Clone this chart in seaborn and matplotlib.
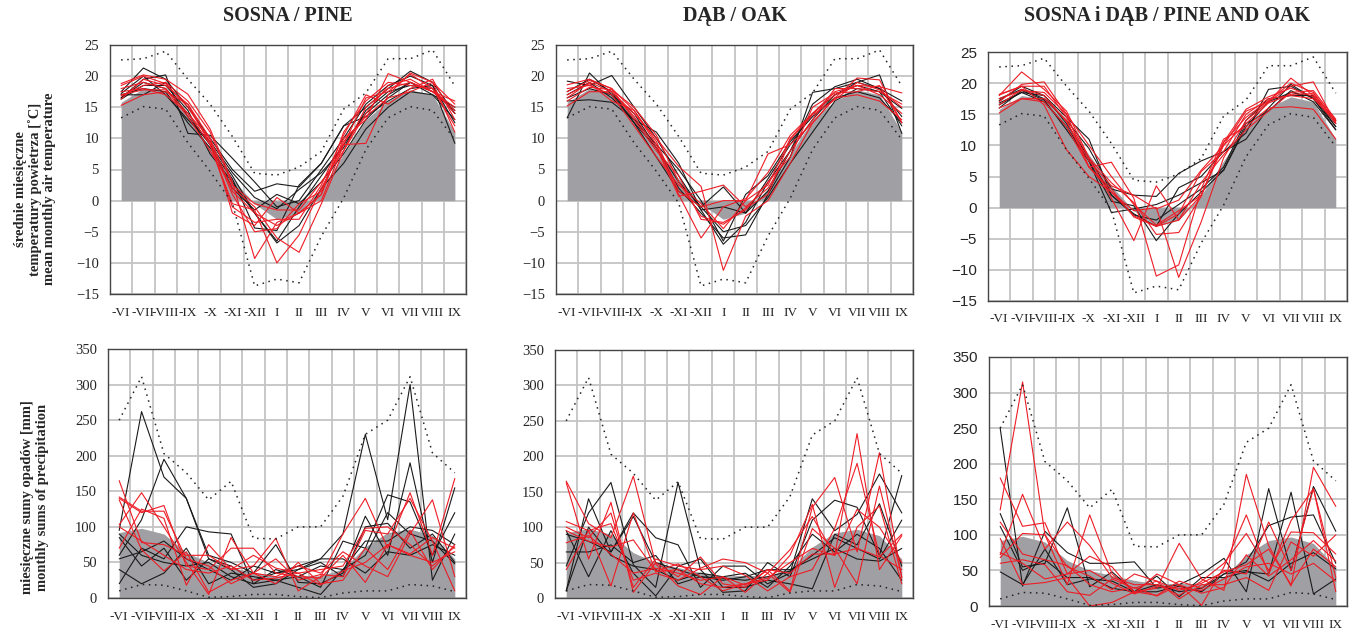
import numpy as np
import pandas as pd
import matplotlib
matplotlib.use('Agg')
import matplotlib.pyplot as plt
import seaborn as sns

# months of the previous (-) and current year
months = ['-VI', '-VII', '-VIII', '-IX', '-X', '-XI', '-XII', 'I', 'II', 'III',
          'IV', 'V', 'VI', 'VII', 'VIII', 'IX']

# long-term climate (gray area = mean, dotted = max / min)
temp_mean = [15.8, 18, 17.5, 13.5, 8.5, 3.5, -0.5, -3, -2, 2, 7.5, 13, 16, 17.8, 17, 11]
temp_max = [22.6, 22.8, 24, 19.5, 15.5, 10.3, 4.4, 4.1, 5.4, 7.9, 14.7, 17.3, 22.8, 22.8, 24.2, 18.4]
temp_min = [13.3, 15.1, 14.7, 9.3, 4.7, -0.4, -13.7, -12.6, -13.2, -5.7, 0.4, 8.2, 13.3, 15.1, 14.5, 9.8]
prec_mean = [92, 98, 90, 64, 50, 43, 36, 31, 32, 31, 41, 72, 92, 97, 88, 55]
prec_max = [250, 311, 203, 176, 138, 164, 84, 83, 100, 100, 143, 230, 250, 311, 204, 176]
prec_min = [10, 19, 18, 10, 1, 2, 5, 5, 2, 0.5, 7, 10, 10, 19, 17, 9]

# pine - temperature
pine_temp_black = [
    [17.5, 21.3, 19.5, 15, 10, 5, 1.5, 2.7, 2.2, 6, 12, 15, 18, 20.8, 19, 14],
    [16.5, 19.5, 20.2, 10.8, 10.5, 6.8, 3, -1, 0, 5, 10, 15.5, 18.5, 20, 18.5, 9.2],
    [16.5, 19, 18, 14, 9, 4, -2, -6.5, -1, 4, 9, 14, 17, 19, 17, 15],
    [17, 18, 17.5, 12.5, 8.5, 3.5, -4.4, -4.8, 2.5, 6, 12, 13.5, 16, 18, 18.5, 12.5],
    [17, 17, 19, 13.5, 9, 2, -1.5, 1, -0.5, 3, 7.5, 13, 16.5, 19, 17.5, 14.5],
    [16.3, 18.5, 18.5, 14.5, 7.5, 3, -2, -6.8, -4, 2, 6, 11.5, 15, 17.5, 17, 13],
    [17.2, 20, 17, 13, 9.5, 4.5, 0.5, -1.3, 1.8, 4.5, 8.5, 14.5, 17.5, 18.5, 18, 14],
]
pine_temp_red = [
    [18.8, 20.2, 19.5, 17.1, 11.5, 3, -9.3, -3.5, -2, 1, 10, 13, 20.4, 19, 17.5, 16],
    [15.3, 17, 17.5, 15.5, 9, -0.5, -1.5, -10, -5.5, 2, 9, 9.2, 17, 20.5, 19, 11],
    [18, 19, 18, 14, 10, -2, -4, 0.5, -2, 1, 11, 16, 19, 18.5, 18, 14],
    [17, 17.8, 17.8, 13.5, 8, 2, -1, -6, -8.3, -0.5, 8, 15, 18, 19, 17.5, 15],
    [16.3, 19.5, 18.5, 15.5, 10, 1.5, -2, -4, -2, 0, 9, 16.5, 17.5, 20.3, 18, 12],
    [17.5, 18, 17, 14, 9, -1, -3.5, -3, -3, 2.5, 10.5, 17, 15.5, 18, 19.5, 13],
    [16.8, 18.5, 19, 16, 11, 2.5, -0.5, -1.5, -1.5, 3, 8, 14, 18.5, 19.5, 17.5, 14.5],
    [18.5, 20, 18.8, 15, 9.5, 1, -5, -4.5, -0.5, 1.5, 9.5, 13.5, 16.5, 17.5, 19, 15.5],
]

# oak - temperature
oak_temp_black = [
    [13.3, 20.5, 17, 12.5, 8.5, 2, -2, -6, -5.5, 1, 7, 17.4, 18, 19, 20.2, 10.8],
    [19.2, 18.5, 20.1, 15, 10, 4, -1.5, -7, -3.5, 3, 8, 15.5, 18.3, 19.5, 18, 16],
    [16, 16.2, 15.8, 13, 11, 6, -1.5, -1, -2, 3.5, 9, 14, 17, 18.5, 17.5, 12],
    [17.5, 19.5, 17.5, 12.5, 7, 1.5, -1, 2.2, -2, 1.5, 8, 13, 17, 19, 18, 13.5],
    [16.5, 18, 17, 14, 8.5, 3, -1, -5, -4, 0.5, 6, 11, 16, 18, 17.5, 14.8],
    [17, 19, 16.5, 13, 9, 5, 0, -6.5, 1, 4, 9.5, 13.5, 16.5, 17.5, 16.5, 12.5],
]
oak_temp_red = [
    [18.6, 19.5, 18, 14.5, 9, 1, -6, -1, 0.3, 4.5, 10.5, 14, 17, 18.5, 18.3, 17.3],
    [15.2, 17.5, 17.5, 14, 10, 5.5, 2.3, -11.2, -2.5, 0, 6, 12.5, 16.5, 19.7, 19.4, 12.5],
    [16.5, 19, 17.5, 13.5, 8.5, 0.7, 1.5, 2.5, -1, 2, 8, 13, 18, 18, 17.5, 15.5],
    [18, 18.5, 17, 12, 7, 2.5, -0.5, -4.5, 0, 7.5, 9, 12.5, 16.5, 17, 16, 13],
    [17, 18.8, 16, 14.5, 9.5, 1.5, -1, 0, 0, 2.5, 10, 14, 17.5, 18.5, 17, 14],
    [17.5, 19.3, 18, 13, 8, 4, -3, -3.5, -1.5, 3, 7, 15, 17.3, 17.5, 18.5, 12.5],
    [16, 18.2, 17.8, 15, 10.5, 3, -2.5, -3.8, -1.2, 1, 9.8, 13.8, 16.2, 19, 17.8, 15],
]

# pine and oak - temperature
mix_temp_black = [
    [16.8, 18.5, 17, 13, 7.5, 1, 0.3, -5.3, -1, 2.5, 6, 13.5, 15.5, 18.8, 17, 12.5],
    [17.5, 19, 17.5, 14, 9.5, 3, 2, 1.8, 5.5, 7.5, 9, 12, 19, 19.5, 17.5, 13],
    [16, 18.8, 17.3, 12.5, 7.5, -0.8, -0.2, 0.5, 2, 4, 6, 13, 17, 18.5, 17.8, 13.5],
    [17.2, 19.5, 18, 14.5, 11, 2, -1, -3, 3.2, 5, 9, 11, 16, 19.8, 17.5, 12.5],
    [16.5, 18.5, 18, 13.5, 8, 2, -1.2, -2, 0.5, 3, 6.5, 14, 17.5, 18, 18, 13],
]
mix_temp_red = [
    [18, 21.8, 19, 15.5, 8, 1.5, -5.3, 3.5, -2, 2, 10, 15.5, 17, 20.8, 18, 14],
    [15.2, 17.5, 17.5, 14, 6.5, 7.3, 1.5, -11, -9.2, 3, 11, 13, 16, 16.2, 15.8, 11],
    [18.2, 19.5, 16.5, 9.3, 5, 2.5, -0.5, 0, -11.2, -2.3, 8, 14, 17, 19.5, 20.2, 13.5],
    [17, 19.8, 20.2, 15, 6.5, 3, -1.5, -3, -1, 5.8, 9, 15, 17.5, 18, 17.5, 14],
    [16, 17.5, 17, 13, 6.5, 2.5, -1.3, -3, -2, 4, 8.5, 12.5, 15.5, 18.5, 18.8, 14.2],
    [18.1, 19.5, 19.5, 14.5, 8, 4, 0.8, -4.3, -4, 1.8, 10.5, 15.8, 17.8, 19.2, 17.8, 13.5],
    [16.5, 19, 18, 13.8, 7.5, 3.5, 2, -0.2, 1.2, 6, 10, 13.5, 16.8, 18.2, 18.3, 14],
    [17.5, 18.8, 18.5, 15, 10, 5, 0.5, -2.8, -0.5, 2, 10.5, 14.5, 17.2, 20, 18.5, 13.8],
]

# pine - precipitation
pine_prec_black = [
    [95, 262, 170, 140, 55, 45, 25, 35, 40, 55, 90, 230, 110, 300, 25, 90],
    [60, 110, 195, 140, 60, 50, 35, 75, 22, 20, 35, 115, 60, 190, 50, 155],
    [20, 70, 55, 100, 93, 90, 20, 25, 30, 15, 80, 70, 145, 135, 60, 120],
    [85, 45, 70, 25, 55, 40, 15, 20, 40, 50, 30, 100, 105, 70, 90, 50],
    [40, 20, 35, 70, 20, 35, 30, 25, 15, 5, 40, 80, 80, 100, 95, 75],
    [55, 65, 80, 55, 40, 25, 45, 35, 45, 55, 55, 35, 65, 60, 75, 60],
    [90, 60, 50, 45, 50, 30, 20, 40, 30, 45, 40, 60, 120, 90, 80, 48],
]
pine_prec_red = [
    [165, 78, 75, 60, 60, 40, 45, 84, 10, 30, 90, 140, 70, 148, 60, 168],
    [103, 148, 100, 50, 5, 85, 35, 30, 45, 35, 65, 45, 30, 90, 138, 30],
    [70, 125, 112, 18, 75, 40, 60, 42, 35, 40, 45, 98, 100, 75, 45, 72],
    [140, 120, 130, 45, 40, 70, 70, 35, 30, 28, 60, 22, 75, 60, 50, 65],
    [138, 68, 38, 65, 8, 25, 35, 20, 50, 20, 25, 70, 40, 95, 40, 75],
    [142, 122, 122, 55, 45, 20, 35, 55, 25, 33, 30, 95, 90, 140, 80, 10],
    [100, 80, 60, 40, 35, 45, 25, 28, 35, 18, 38, 50, 75, 62, 85, 70],
]

# oak - precipitation
oak_prec_black = [
    [10, 140, 65, 120, 85, 75, 15, 45, 45, 20, 35, 140, 95, 118, 175, 120],
    [45, 120, 163, 47, 15, 163, 40, 8, 10, 50, 30, 110, 138, 128, 60, 173],
    [95, 30, 95, 35, 3, 45, 55, 15, 15, 25, 20, 13, 90, 75, 133, 45],
    [65, 65, 75, 50, 60, 20, 30, 25, 30, 40, 40, 55, 70, 55, 52, 70],
    [10, 100, 60, 45, 40, 25, 35, 30, 35, 15, 45, 90, 65, 90, 70, 25],
    [90, 80, 65, 115, 50, 40, 30, 28, 25, 30, 38, 60, 85, 70, 55, 110],
]
oak_prec_red = [
    [163, 55, 135, 8, 50, 30, 58, 20, 15, 40, 10, 128, 170, 65, 205, 28],
    [165, 105, 85, 172, 48, 17, 5, 30, 8, 35, 68, 115, 60, 232, 40, 88],
    [100, 85, 120, 15, 55, 45, 40, 45, 32, 10, 30, 40, 98, 190, 60, 40],
    [108, 95, 17, 120, 37, 40, 20, 15, 20, 25, 60, 132, 15, 100, 130, 20],
    [40, 95, 105, 25, 35, 25, 42, 55, 50, 35, 8, 98, 70, 20, 158, 30],
    [95, 80, 72, 82, 38, 48, 30, 10, 20, 28, 50, 70, 60, 125, 100, 50],
    [78, 88, 62, 35, 42, 35, 25, 30, 18, 40, 35, 62, 62, 70, 58, 90],
]

# pine and oak - precipitation
mix_prec_black = [
    [250, 28, 105, 75, 60, 60, 62, 25, 30, 45, 67, 20, 165, 50, 168, 105],
    [130, 55, 60, 138, 27, 48, 20, 42, 13, 40, 40, 48, 45, 160, 17, 38],
    [48, 30, 80, 30, 38, 35, 20, 20, 28, 20, 45, 62, 113, 125, 128, 60],
    [112, 50, 65, 40, 40, 25, 20, 30, 20, 25, 45, 50, 35, 60, 75, 52],
]
mix_prec_red = [
    [135, 315, 100, 30, 128, 45, 20, 25, 88, 38, 22, 185, 85, 28, 195, 140],
    [180, 112, 117, 45, 70, 55, 18, 45, 30, 1, 55, 128, 45, 120, 165, 40],
    [72, 157, 80, 118, 85, 40, 30, 30, 15, 35, 60, 102, 50, 104, 103, 73],
    [95, 30, 33, 40, 0, 5, 20, 15, 35, 25, 50, 45, 118, 50, 165, 20],
    [60, 65, 58, 20, 15, 38, 25, 35, 10, 30, 30, 40, 22, 90, 70, 100],
    [68, 102, 100, 55, 42, 23, 45, 35, 22, 32, 48, 58, 80, 30, 80, 55],
    [118, 73, 65, 57, 30, 20, 26, 14, 30, 18, 26, 72, 42, 65, 92, 63],
    [75, 60, 38, 45, 50, 32, 17, 28, 25, 22, 38, 55, 60, 45, 60, 35],
]

sns.set_style('white')
plt.rcParams['font.family'] = ['Liberation Serif', 'DejaVu Serif']

GRID = '#c4c4c4'
FILL = '#a0a0a4'
x = np.arange(len(months))


def long_df(black, red):
    rows = []
    for grp, lines in (('k', black), ('r', red)):
        for i, vals in enumerate(lines):
            for m, v in enumerate(vals):
                rows.append({'m': m, 'v': v, 'id': grp + str(i), 'grp': grp})
    return pd.DataFrame(rows)


def panel(rect, mean, vmax, vmin, black, red, ylim, yticks, sans=False):
    ax = fig.add_axes(rect)
    ax.set_axisbelow(True)
    ax.fill_between(x, 0, mean, color=FILL, lw=0, zorder=1)
    df = long_df(black, red)
    sns.lineplot(data=df, x='m', y='v', hue='grp', units='id', estimator=None,
                 hue_order=['k', 'r'], palette={'k': '#1a1a1a', 'r': '#ee1c25'},
                 lw=0.8, legend=False, sort=False, ax=ax, zorder=3)
    sns.lineplot(x=x, y=vmax, color='#222222', ls=(0, (1, 3)), lw=1.1, ax=ax, zorder=4)
    sns.lineplot(x=x, y=vmin, color='#222222', ls=(0, (1, 3)), lw=1.1, ax=ax, zorder=4)
    ax.set_xlim(-0.5, len(months) - 0.5)
    ax.set_ylim(*ylim)
    ax.set_xticks(x)
    ax.set_xticklabels(months, fontsize=9.5)
    ax.set_xticks(np.arange(-0.5, len(months), 1), minor=True)
    ax.tick_params(axis='x', which='major', length=0, pad=9)
    ax.tick_params(axis='x', which='minor', length=5, width=0.8, color='#555555', direction='out')
    ax.set_yticks(yticks)
    ax.tick_params(axis='y', length=4, width=0.8, color='#555555', direction='out', pad=4)
    for lab in ax.get_yticklabels():
        if sans:
            lab.set_family('Liberation Sans')
            lab.set_fontsize(11)
        else:
            lab.set_fontsize(10.5)
    ax.grid(which='minor', axis='x', color=GRID, lw=1.3)
    ax.grid(which='major', axis='y', color=GRID, lw=1.3)
    ax.grid(which='major', axis='x', visible=False)
    for s in ax.spines.values():
        s.set_color('#444444')
        s.set_linewidth(1.0)
    ax.set_xlabel('')
    ax.set_ylabel('')
    return ax


W, H = 1353, 632
fig = plt.figure(figsize=(W / 100, H / 100), dpi=100)


def rect(l, r, t, b):
    return [l / W, 1 - b / H, (r - l) / W, (b - t) / H]


t_lim, t_ticks = (-15, 25), np.arange(-15, 26, 5)
p_lim, p_ticks = (0, 350), np.arange(0, 351, 50)

a1 = panel(rect(110, 466, 45, 294), temp_mean, temp_max, temp_min,
           pine_temp_black, pine_temp_red, t_lim, t_ticks)
a2 = panel(rect(556, 913, 45, 294), temp_mean, temp_max, temp_min,
           oak_temp_black, oak_temp_red, t_lim, t_ticks)
a3 = panel(rect(988, 1347, 52, 301), temp_mean, temp_max, temp_min,
           mix_temp_black, mix_temp_red, t_lim, t_ticks, sans=True)
b1 = panel(rect(108, 466, 349, 598), prec_mean, prec_max, prec_min,
           pine_prec_black, pine_prec_red, p_lim, p_ticks)
b2 = panel(rect(555, 913, 350, 598), prec_mean, prec_max, prec_min,
           oak_prec_black, oak_prec_red, p_lim, p_ticks)
b3 = panel(rect(989, 1347, 357, 606), prec_mean, prec_max, prec_min,
           mix_prec_black, mix_prec_red, p_lim, p_ticks, sans=True)

for ax, title in ((a1, 'SOSNA / PINE'), (a2, 'DĄB / OAK'),
                  (a3, 'SOSNA i DĄB / PINE AND OAK')):
    bb = ax.get_position()
    fig.text((bb.x0 + bb.x1) / 2, 1 - 16 / H, title, ha='center', va='center',
             fontsize=14.5, fontweight='bold')

fig.text(35 / W, 1 - 189 / H,
         'średnie miesięczne\ntemperatury powietrza [˚C]\nmean monthly air temperature',
         rotation=90, ha='center', va='center', multialignment='center',
         fontsize=10.5, fontweight='bold', linespacing=1.1)
fig.text(35 / W, 1 - 497 / H,
         'miesięczne sumy opadów [mm]\nmonthly sums of precipitation',
         rotation=90, ha='center', va='center', multialignment='center',
         fontsize=10.5, fontweight='bold', linespacing=1.15)

fig.savefig('out.png', dpi=100)
